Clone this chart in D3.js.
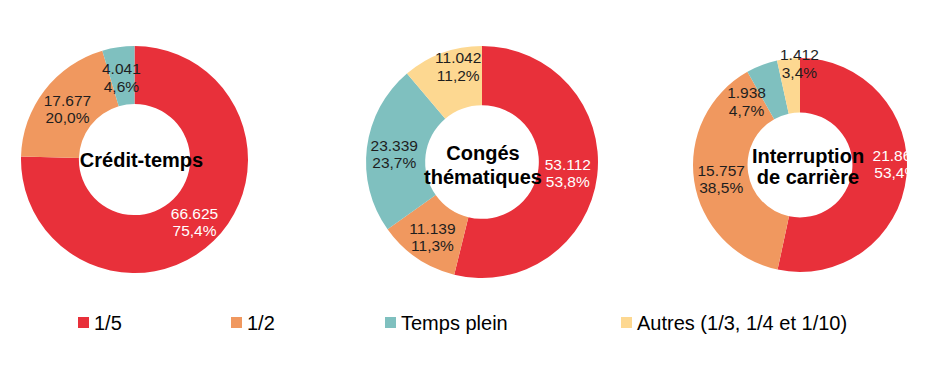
<!DOCTYPE html>
<html>
<head>
<meta charset="utf-8">
<script src="https://cdn.jsdelivr.net/npm/d3@7"></script>
<style>
  body { margin: 0; background: #fff; }
  svg { display: block; font-family: "Liberation Sans", Arial, sans-serif; }
</style>
</head>
<body>
<div class="chart"></div>
<script>
// Donut charts: type of time-off per scheme

var categories = ["1/5", "1/2", "Temps plein", "Autres (1/3, 1/4 et 1/10)"];
var colors = ["#e8303a", "#f0985f", "#7fc0bf", "#fdd891"];

var creditTemps = [66625, 17677, 4041, 0];
var congesThematiques = [53112, 11139, 23339, 11042];
var interruptionCarriere = [21860, 15757, 1938, 1412];

var titles = [["Crédit-temps"], ["Congés", "thématiques"], ["Interruption", "de carrière"]];

var svgWidth = 945;
var svgHeight = 389;

// layout of each donut (center, outer radius, title placement, clip edge)
var layout = [
    { cx: 134.5, cy: 159.5, r: 113.5, tx: 141.5, ty: [167], clipRight: 945 },
    { cx: 482, cy: 162, r: 116, tx: 483, ty: [160, 184], clipRight: 945 },
    { cx: 800, cy: 165, r: 107, tx: 808, ty: [163, 184], clipRight: 909 }
];

// Excel "best fit" moved a few labels off the ring centroid
var labelNudge = [
    [[1, 1], [0, 0], [-1, 1], [0, 0]],
    [[0, 0], [-1, 3], [-2, 2], [6, -15]],
    [[17, -10], [0, 1], [-25, 10], [8, -23]]
];

var fr = d3.formatLocale({ decimal: ",", thousands: ".", grouping: [3], currency: ["", "€"] });
var fmtNum = fr.format(",d");
var fmtPct = fr.format(".1f");

var svg = d3.select(".chart")
    .append("svg")
    .attr("width", svgWidth)
    .attr("height", svgHeight);

var datasets = [creditTemps, congesThematiques, interruptionCarriere];

var pie = d3.pie().sort(null).value(function(d) { return d; });

datasets.forEach(function(values, i) {
    var L = layout[i];
    var total = d3.sum(values);
    var inner = L.r * 0.49;

    svg.append("clipPath")
        .attr("id", "clip" + i)
        .append("rect")
        .attr("x", 0)
        .attr("y", 0)
        .attr("width", L.clipRight)
        .attr("height", svgHeight);

    var chart = svg.append("g")
        .attr("clip-path", "url(#clip" + i + ")");

    var g = chart.append("g")
        .attr("transform", "translate(" + L.cx + "," + L.cy + ")");

    var arc = d3.arc().innerRadius(inner).outerRadius(L.r);
    var arcs = pie(values);

    g.selectAll("path")
        .data(arcs)
        .enter()
        .append("path")
        .attr("d", arc)
        .attr("fill", function(d, j) { return colors[j]; });

    var labels = g.selectAll(".slice-label")
        .data(arcs.filter(function(d) { return d.value > 0; }))
        .enter()
        .append("text")
        .attr("class", "slice-label")
        .attr("text-anchor", "middle")
        .attr("font-size", "15.5px")
        .attr("fill", function(d) { return d.index === 0 ? "#ffffff" : "#1e1e1e"; })
        .attr("transform", function(d) {
            var c = arc.centroid(d);
            var n = labelNudge[i][d.index];
            return "translate(" + (c[0] + n[0]) + "," + (c[1] + n[1]) + ")";
        });

    labels.append("tspan")
        .attr("x", 0)
        .attr("y", -2.5)
        .text(function(d) { return fmtNum(d.value); });

    labels.append("tspan")
        .attr("x", 0)
        .attr("y", 15)
        .text(function(d) { return fmtPct(d.value / total * 100) + "%"; });

    // title in the hole
    titles[i].forEach(function(line, k) {
        svg.append("text")
            .attr("x", L.tx)
            .attr("y", L.ty[k])
            .attr("text-anchor", "middle")
            .attr("font-size", "20px")
            .attr("font-weight", "bold")
            .attr("fill", "#000")
            .text(line);
    });
});

// legend
var legendX = [78, 231, 385, 621];
var legend = svg.append("g").attr("class", "legend");

categories.forEach(function(name, i) {
    legend.append("rect")
        .attr("x", legendX[i])
        .attr("y", 317)
        .attr("width", 11)
        .attr("height", 11)
        .attr("fill", colors[i]);
    legend.append("text")
        .attr("x", legendX[i] + 16)
        .attr("y", 329.5)
        .attr("font-size", "20px")
        .attr("fill", "#000")
        .text(name);
});
</script>
</body>
</html>
